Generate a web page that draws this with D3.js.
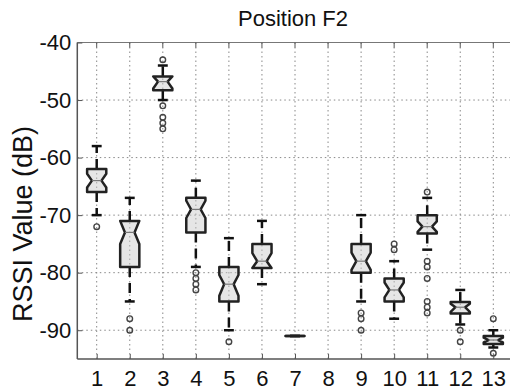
<!DOCTYPE html>
<html>
<head>
<meta charset="utf-8">
<script src="https://cdnjs.cloudflare.com/ajax/libs/d3/7.8.5/d3.min.js"></script>
<style>
    body { margin: 0; background: #fff; }
    text { font-family: "Liberation Sans", Arial, sans-serif; fill: #111; }
</style>
</head>
<body>
<div id="chart"></div>
<script>
// values, one entry per position (null = no data)
let positions = [1, 2, 3, 4, 5, 6, 7, 8, 9, 10, 11, 12, 13];
let q1 =        [-66, -79, -48.3, -73, -85, -79.2, -91, null, -80, -85, -73.2, -87.1, -92.4];
let medians =   [-64, -73, -46.8, -69, -82, -78, -91, null, -78, -83, -72, -86, -91.7];
let q3 =        [-62, -71, -45.9, -67, -79, -75, -91, null, -75, -81, -70, -85.1, -91];
let notchLo =   [-65.2, -75, -48, -70.5, -84, -79.2, -91, null, -79.5, -84.3, -72.9, -86.8, -92.1];
let notchHi =   [-62.8, -71, -45.9, -67.5, -80.4, -76.6, -91, null, -76.5, -81.7, -71.1, -85.4, -91.3];
let whiskLo =   [-70, -85, -50, -79, -90, -82, -91, null, -85, -88, -76, -89, -93];
let whiskHi =   [-58, -67, -44, -64, -74, -71, -91, null, -70, -78, -67, -83, -90];
let outliers = [
    [-72],
    [-88, -90],
    [-43, -51, -53, -54, -55],
    [-80, -81, -82, -83],
    [-92],
    [],
    [],
    [],
    [-87, -88, -90],
    [-75, -76],
    [-66, -78, -79, -81, -85, -86, -87],
    [-90, -92],
    [-88, -94]
];
let yTicks = [-90, -80, -70, -60, -50, -40];

let width = 510,
    height = 392;

let x = d3.scaleLinear()
    .domain([0.413, 13.587])
    .range([77.3, 512.7]);

let y = d3.scaleLinear()
    .domain([-95, -40])
    .range([359, 42.5]);

let svg = d3.select("#chart")
    .append("svg")
    .attr("width", width)
    .attr("height", height);

let halfW = 0.29,   // half box width in x units
    capW = 0.15;

// dotted grid
svg.append("g")
    .selectAll("line")
    .data(yTicks)
    .enter().append("line")
    .attr("x1", x.range()[0]).attr("x2", x.range()[1])
    .attr("y1", d => y(d)).attr("y2", d => y(d))
    .attr("stroke", "#888")
    .attr("stroke-width", 1)
    .attr("stroke-dasharray", "1.5,3");

svg.append("g")
    .selectAll("line")
    .data(positions)
    .enter().append("line")
    .attr("x1", d => x(d)).attr("x2", d => x(d))
    .attr("y1", y.range()[0]).attr("y2", y.range()[1])
    .attr("stroke", "#888")
    .attr("stroke-width", 1)
    .attr("stroke-dasharray", "1.5,3");

// build box data from the arrays
let boxes = positions.map(function(p, i) {
    return {pos: p, q1: q1[i], med: medians[i], q3: q3[i], nLo: notchLo[i], nHi: notchHi[i],
        lo: whiskLo[i], hi: whiskHi[i], out: outliers[i]};
}).filter(d => d.med !== null);

let g = svg.append("g");

// whiskers (dashed)
g.selectAll(".whisk-hi")
    .data(boxes)
    .enter().append("line")
    .attr("x1", d => x(d.pos)).attr("x2", d => x(d.pos))
    .attr("y1", d => y(d.q3)).attr("y2", d => y(d.hi))
    .attr("stroke", "#111").attr("stroke-width", 2.5)
    .attr("stroke-dasharray", "10,6");

g.selectAll(".whisk-lo")
    .data(boxes)
    .enter().append("line")
    .attr("x1", d => x(d.pos)).attr("x2", d => x(d.pos))
    .attr("y1", d => y(d.q1)).attr("y2", d => y(d.lo))
    .attr("stroke", "#111").attr("stroke-width", 2.5)
    .attr("stroke-dasharray", "10,6");

// caps
g.selectAll(".cap")
    .data(boxes.flatMap(d => [{pos: d.pos, v: d.lo}, {pos: d.pos, v: d.hi}]))
    .enter().append("line")
    .attr("x1", d => x(d.pos - capW)).attr("x2", d => x(d.pos + capW))
    .attr("y1", d => y(d.v)).attr("y2", d => y(d.v))
    .attr("stroke", "#111").attr("stroke-width", 2.5);

// notched boxes
function boxPath(d) {
    let l = x(d.pos - halfW), r = x(d.pos + halfW),
        nl = x(d.pos - halfW / 2), nr = x(d.pos + halfW / 2);
    return d3.line()([
        [l, y(d.q1)], [l, y(d.nLo)], [nl, y(d.med)], [l, y(d.nHi)], [l, y(d.q3)],
        [r, y(d.q3)], [r, y(d.nHi)], [nr, y(d.med)], [r, y(d.nLo)], [r, y(d.q1)]
    ]) + "Z";
}

g.selectAll(".box")
    .data(boxes)
    .enter().append("path")
    .attr("d", boxPath)
    .attr("fill", "#c8c8c8")
    .attr("fill-opacity", 0.45)
    .attr("stroke", "#222")
    .attr("stroke-width", 2.5)
    .attr("stroke-linejoin", "round");

// flat boxes (all values equal) drawn as a single bar
g.selectAll(".flat")
    .data(boxes.filter(d => d.q1 === d.q3))
    .enter().append("line")
    .attr("x1", d => x(d.pos - halfW)).attr("x2", d => x(d.pos + halfW))
    .attr("y1", d => y(d.med)).attr("y2", d => y(d.med))
    .attr("stroke", "#222").attr("stroke-width", 2.5);

// median line across the neck
g.selectAll(".median")
    .data(boxes.filter(d => d.q1 !== d.q3))
    .enter().append("line")
    .attr("x1", d => x(d.pos - halfW / 2)).attr("x2", d => x(d.pos + halfW / 2))
    .attr("y1", d => y(d.med)).attr("y2", d => y(d.med))
    .attr("stroke", "#777").attr("stroke-width", 1.2);

// outliers
g.selectAll(".outlier")
    .data(boxes.flatMap(d => d.out.map(v => ({pos: d.pos, v: v}))))
    .enter().append("circle")
    .attr("cx", d => x(d.pos))
    .attr("cy", d => y(d.v))
    .attr("r", 2.8)
    .attr("fill", "none")
    .attr("stroke", "#444")
    .attr("stroke-width", 1.4);

// axes lines
let ax = svg.append("g");
ax.append("line")   // left
    .attr("x1", x.range()[0]).attr("x2", x.range()[0])
    .attr("y1", y.range()[0]).attr("y2", y.range()[1])
    .attr("stroke", "#555").attr("stroke-width", 1.5);
ax.append("line")   // bottom
    .attr("x1", x.range()[0]).attr("x2", x.range()[1])
    .attr("y1", y.range()[0]).attr("y2", y.range()[0])
    .attr("stroke", "#555").attr("stroke-width", 1.5);
ax.append("line")   // top
    .attr("x1", x.range()[0]).attr("x2", x.range()[1])
    .attr("y1", y.range()[1]).attr("y2", y.range()[1])
    .attr("stroke", "#777").attr("stroke-width", 1);

// inward ticks + labels (plain hyphen minus like the original)
let yAxis = d3.axisLeft(y).tickValues(yTicks).tickFormat(d => String(d)).tickSize(-5).tickPadding(6);
svg.append("g")
    .attr("transform", "translate(" + x.range()[0] + ",0)")
    .call(yAxis)
    .call(s => s.select(".domain").remove())
    .call(s => s.selectAll("line").attr("stroke", "#555"))
    .call(s => s.selectAll("text").style("font-size", "22px").attr("fill", "#111"));

let xAxis = d3.axisBottom(x).tickValues(positions).tickFormat(d => String(d)).tickSize(-5).tickPadding(11);
svg.append("g")
    .attr("transform", "translate(0," + y.range()[0] + ")")
    .call(xAxis)
    .call(s => s.select(".domain").remove())
    .call(s => s.selectAll("line").attr("stroke", "#555"))
    .call(s => s.selectAll("text").style("font-size", "22px").attr("fill", "#111"));

// top ticks
svg.append("g")
    .selectAll("line")
    .data(positions)
    .enter().append("line")
    .attr("x1", d => x(d)).attr("x2", d => x(d))
    .attr("y1", y.range()[1]).attr("y2", y.range()[1] + 5)
    .attr("stroke", "#555");

// title + y label
svg.append("text")
    .attr("x", 293)
    .attr("y", 26)
    .attr("text-anchor", "middle")
    .style("font-size", "22px")
    .text("Position F2");

svg.append("text")
    .attr("transform", "translate(32,224) rotate(-90)")
    .attr("text-anchor", "middle")
    .style("font-size", "27px")
    .text("RSSI Value (dB)");
</script>
</body>
</html>
